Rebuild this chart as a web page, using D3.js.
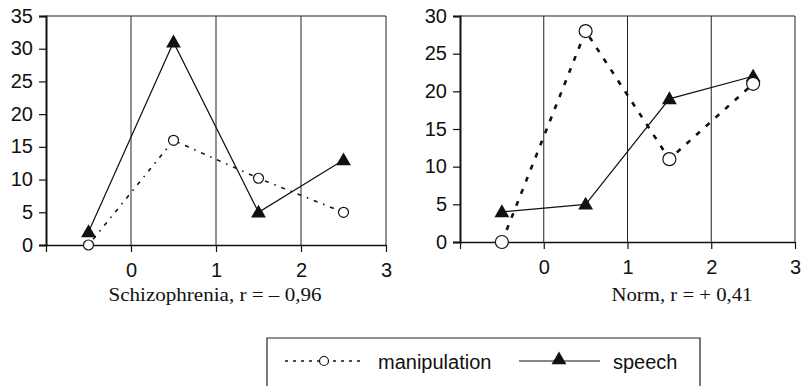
<!DOCTYPE html>
<html>
<head>
<meta charset="utf-8">
<script src="https://cdn.jsdelivr.net/npm/d3@7"></script>
<style>
  body { margin: 0; background: #fff; }
  svg { display: block; }
  .num { font-family: "Liberation Sans", Arial, sans-serif; font-size: 20px; fill: #111; }
  .cap { font-family: "Liberation Serif", "Times New Roman", serif; font-size: 19px; fill: #111; }
</style>
</head>
<body>
<svg id="chart" width="803" height="386"></svg>
<script>
// x positions of the four points (same for both panels)
var xs = [-0.5, 0.5, 1.5, 2.5];
var xTicks = [-1, 0, 1, 2, 3];

var schizoManip = [0, 16, 10.2, 5];
var schizoSpeech = [2, 31, 5, 13];
var normManip = [0, 28, 11, 21];
var normSpeech = [4, 5, 19, 22];

var schizoYTicks = [0, 5, 10, 15, 20, 25, 30, 35];
var normYTicks = [0, 5, 10, 15, 20, 25, 30];

var legendLabels = ["manipulation", "speech"];

var svg = d3.select("#chart");

function panel(opts) {
    var x = d3.scaleLinear().domain([-1, 3]).range([opts.left, opts.right]);
    var y = d3.scaleLinear().domain([0, opts.yMax]).range([opts.bottom, opts.top]);
    var g = svg.append("g");

    // vertical grid lines
    g.selectAll("line.grid").data([0, 1, 2, 3]).enter().append("line")
        .attr("class", "grid")
        .attr("x1", function(d) { return x(d); }).attr("x2", function(d) { return x(d); })
        .attr("y1", y(opts.yMax)).attr("y2", y(0))
        .attr("stroke", "#222").attr("stroke-width", 1);

    // top border
    g.append("line")
        .attr("x1", x(-1)).attr("x2", x(3))
        .attr("y1", y(opts.yMax)).attr("y2", y(opts.yMax))
        .attr("stroke", "#222").attr("stroke-width", 1.2);

    // y axis
    var yAxis = d3.axisLeft(y).tickValues(opts.yTicks).tickSize(7).tickPadding(6);
    var ya = g.append("g").attr("transform", "translate(" + x(-1) + ",0)").call(yAxis);
    ya.select(".domain").attr("stroke", "#111").attr("stroke-width", 2);
    ya.selectAll(".tick line").attr("stroke", "#111").attr("stroke-width", 1.2);
    ya.selectAll(".tick text").attr("class", "num").attr("font-size", null)
        .attr("font-family", null).attr("fill", null).attr("dy", "0.3em");

    // x axis (no label at -1)
    var xAxis = d3.axisBottom(x).tickValues(xTicks).tickSize(7).tickSizeOuter(0).tickPadding(11)
        .tickFormat(function(d) { return d < 0 ? "" : d; });
    var xa = g.append("g").attr("transform", "translate(0," + y(0) + ")").call(xAxis);
    xa.select(".domain").attr("stroke", "#111").attr("stroke-width", 1.5);
    xa.selectAll(".tick line").attr("stroke", "#111").attr("stroke-width", 1.2);
    xa.selectAll(".tick text").attr("class", "num").attr("font-size", null)
        .attr("font-family", null).attr("fill", null);

    var line = d3.line()
        .x(function(d, i) { return x(xs[i]); })
        .y(function(d) { return y(d); });

    g.append("path").datum(opts.manip)
        .attr("d", line).attr("fill", "none")
        .attr("stroke", "#111")
        .attr("stroke-width", opts.dashWidth)
        .attr("stroke-dasharray", opts.dash);

    g.append("path").datum(opts.speech)
        .attr("d", line).attr("fill", "none")
        .attr("stroke", "#111").attr("stroke-width", 1.2);

    var tri = d3.symbol().type(d3.symbolTriangle).size(95);
    g.selectAll("path.tri").data(opts.speech).enter().append("path")
        .attr("class", "tri")
        .attr("d", tri)
        .attr("transform", function(d, i) { return "translate(" + x(xs[i]) + "," + (y(d) + 1) + ")"; })
        .attr("fill", "#111");

    g.selectAll("circle.m").data(opts.manip).enter().append("circle")
        .attr("class", "m")
        .attr("cx", function(d, i) { return x(xs[i]); })
        .attr("cy", function(d) { return y(d); })
        .attr("r", opts.r)
        .attr("fill", "#fff").attr("stroke", "#111").attr("stroke-width", 1.2);

    g.append("text").attr("class", "cap")
        .attr("x", opts.capX).attr("y", 301)
        .attr("text-anchor", "middle")
        .attr("textLength", opts.capW).attr("lengthAdjust", "spacingAndGlyphs")
        .text(opts.caption);
}

panel({
    left: 46, right: 386, top: 16, bottom: 245, yMax: 35,
    yTicks: schizoYTicks, manip: schizoManip, speech: schizoSpeech,
    dash: "1.5,6,4,6", dashWidth: 1.6, r: 5,
    caption: "Schizophrenia, r = \u2013 0,96", capX: 215, capW: 213
});

panel({
    left: 460, right: 795, top: 16, bottom: 242, yMax: 30,
    yTicks: normYTicks, manip: normManip, speech: normSpeech,
    dash: "5,8", dashWidth: 2.6, r: 6.5,
    caption: "Norm, r = + 0,41", capX: 682, capW: 141
});

// legend
var lg = svg.append("g");
lg.append("path")
    .attr("d", "M267,390 V338 H700 V390")
    .attr("fill", "none").attr("stroke", "#222").attr("stroke-width", 1.2);

var ly = 361;
lg.append("line").attr("x1", 285).attr("x2", 360).attr("y1", ly).attr("y2", ly)
    .attr("stroke", "#111").attr("stroke-width", 1.5).attr("stroke-dasharray", "3,5");
lg.append("circle").attr("cx", 324).attr("cy", ly).attr("r", 4.5)
    .attr("fill", "#fff").attr("stroke", "#111").attr("stroke-width", 1.2);
lg.append("text").attr("class", "num").attr("x", 378).attr("y", ly + 8).text(legendLabels[0]);

lg.append("line").attr("x1", 519).attr("x2", 600).attr("y1", ly).attr("y2", ly)
    .attr("stroke", "#111").attr("stroke-width", 1.2);
lg.append("path").attr("d", d3.symbol().type(d3.symbolTriangle).size(95))
    .attr("transform", "translate(559," + (ly - 1) + ")").attr("fill", "#111");
lg.append("text").attr("class", "num").attr("x", 613).attr("y", ly + 8).text(legendLabels[1]);
</script>
</body>
</html>
